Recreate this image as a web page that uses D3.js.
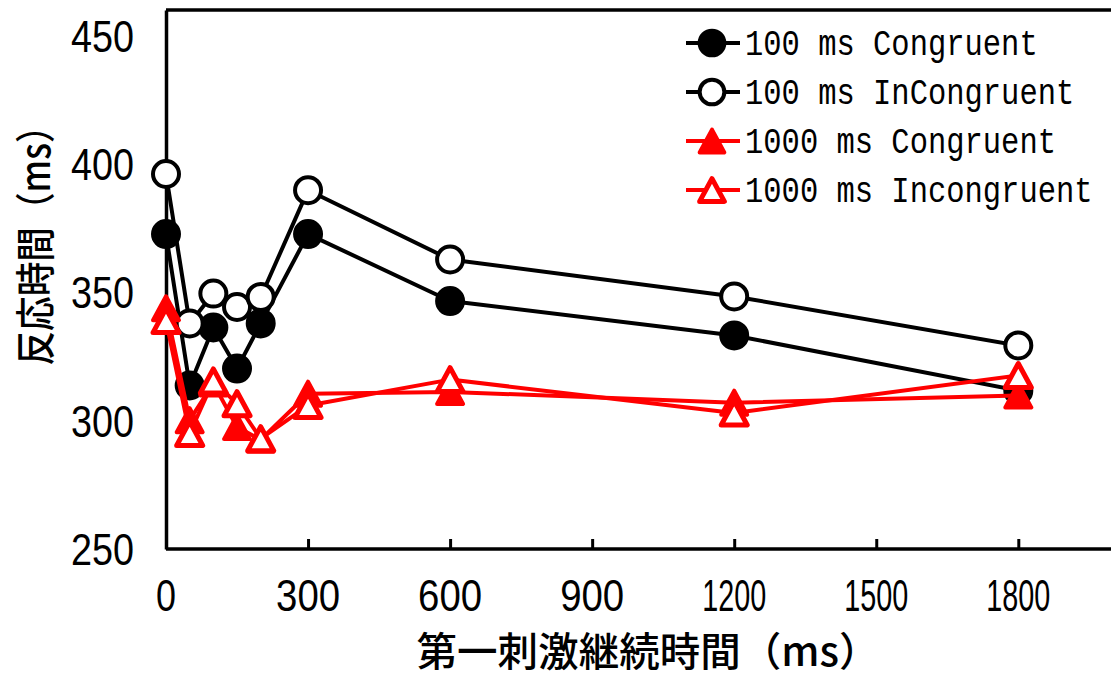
<!DOCTYPE html>
<html><head><meta charset="utf-8">
<script src="https://cdn.jsdelivr.net/npm/d3@7"></script>
<style>
html,body{margin:0;padding:0;background:#fff;}
svg{display:block;}
</style></head>
<body>
<svg id="chart" width="1111" height="678"></svg>
<script>
// ---- data ----
const xValues = [0, 50, 100, 150, 200, 300, 600, 1200, 1800];
const c100  = [372.7, 313.7, 336.3, 320.3, 337.9, 372.7, 346.6, 333.2, 311.7];
const i100  = [396.1, 337.9, 349.5, 344.3, 348.2, 389.8, 362.8, 348.4, 329.3];
const c1000 = [343.8, 300.2, 314.5, 297.5, 292.6, 310.5, 311.2, 307.0, 309.8];
const i1000 = [339.0, 295.0, 315.5, 306.6, 293.0, 305.9, 316.0, 303.0, 317.6];
const seriesNames = ["100 ms Congruent", "100 ms InCongruent", "1000 ms Congruent", "1000 ms Incongruent"];
const xTicks = [0, 300, 600, 900, 1200, 1500, 1800];
const yTicks = [250, 300, 350, 400, 450];
const xTitle = "第一刺激継続時間（ms）";
const yTitle = "反応時間（ms）";

const series = [
  {name: seriesNames[0], values: c100,  color: "#000", shape: "circle",   filled: true},
  {name: seriesNames[1], values: i100,  color: "#000", shape: "circle",   filled: false},
  {name: seriesNames[2], values: c1000, color: "#ff0000", shape: "triangle", filled: true},
  {name: seriesNames[3], values: i1000, color: "#ff0000", shape: "triangle", filled: false}
];

const svg = d3.select("#chart");
const x = d3.scaleLinear().domain([0, 2000]).range([166, 1113]);
const y = d3.scaleLinear().domain([250, 460]).range([549, 10]);

// frame (top edge)
svg.append("line").attr("x1", x(0)).attr("x2", 1120).attr("y1", y(460)).attr("y2", y(460))
  .attr("stroke", "#000").attr("stroke-width", 3.5);

// axes
const xAxis = d3.axisBottom(x).tickValues(xTicks).tickSizeInner(-10).tickSizeOuter(0).tickFormat("");
const gx = svg.append("g").attr("transform", `translate(0,${y(250)})`).call(xAxis);
gx.select(".domain").attr("stroke-width", 3.5).attr("d", `M${x(0)},0H1120`);
gx.selectAll(".tick line").attr("stroke-width", 3);

const yAxis = d3.axisLeft(y).tickValues(yTicks).tickSize(0).tickFormat("");
const gy = svg.append("g").attr("transform", `translate(${x(0)},0)`).call(yAxis);
gy.select(".domain").attr("stroke-width", 3.5);

// tick labels
svg.append("g").selectAll("text").data(xTicks).join("text")
  .attr("x", d => x(d)).attr("y", y(250) + 62)
  .attr("text-anchor", "middle")
  .attr("font-family", "Liberation Sans, Arial, sans-serif")
  .attr("font-size", 45)
  .attr("textLength", d => d === 0 ? 20 : 64)
  .attr("lengthAdjust", "spacingAndGlyphs")
  .attr("fill", "#000")
  .text(d => d);

svg.append("g").selectAll("text").data(yTicks).join("text")
  .attr("x", 134).attr("y", d => y(d) + 16)
  .attr("text-anchor", "end")
  .attr("font-family", "Liberation Sans, Arial, sans-serif")
  .attr("font-size", 45)
  .attr("textLength", 63)
  .attr("lengthAdjust", "spacingAndGlyphs")
  .attr("fill", "#000")
  .text(d => d);

// axis titles
svg.append("text")
  .attr("transform", "translate(648,666) scale(1,1.05)")
  .attr("text-anchor", "middle")
  .attr("font-family", "Noto Sans CJK JP, sans-serif")
  .attr("font-size", 38).attr("font-weight", 500)
  .attr("textLength", 463).attr("lengthAdjust", "spacingAndGlyphs")
  .text(xTitle);

svg.append("text")
  .attr("transform", "translate(50,237) rotate(-90)")
  .attr("text-anchor", "middle")
  .attr("font-family", "Noto Sans CJK JP, sans-serif")
  .attr("font-size", 40).attr("font-weight", 500)
  .attr("textLength", 257).attr("lengthAdjust", "spacingAndGlyphs")
  .text(yTitle);

// marker drawing
function triPath(s) { return `M0,${-12*s}L${13*s},${12*s}L${-13*s},${12*s}Z`; }
function drawMarker(g, ser, cx, cy, scale) {
  if (ser.shape === "circle") {
    g.append("circle").attr("cx", cx).attr("cy", cy).attr("r", 13*scale)
      .attr("fill", ser.filled ? ser.color : "#fff")
      .attr("stroke", ser.color).attr("stroke-width", 4);
  } else {
    g.append("path").attr("d", triPath(scale)).attr("transform", `translate(${cx},${cy})`)
      .attr("fill", ser.filled ? ser.color : "#fff")
      .attr("stroke", ser.color).attr("stroke-width", ser.filled ? 4 : 5)
      .attr("stroke-linejoin", "round");
  }
}

const line = d3.line().x(d => x(d[0])).y(d => y(d[1]));
series.forEach(ser => {
  const g = svg.append("g");
  const pts = xValues.map((xv, i) => [xv, ser.values[i]]);
  g.append("path").attr("d", line(pts)).attr("fill", "none")
    .attr("stroke", ser.color).attr("stroke-width", 4).attr("stroke-linejoin", "round");
  pts.forEach(p => drawMarker(g, ser, x(p[0]), y(p[1]), 1));
});

// legend
const legendRows = [43, 92, 141, 190];
const lg = svg.append("g");
series.forEach((ser, i) => {
  const cy = legendRows[i];
  lg.append("line").attr("x1", 686).attr("x2", 740).attr("y1", cy).attr("y2", cy)
    .attr("stroke", ser.color).attr("stroke-width", 4);
  drawMarker(lg, ser, 712, cy, 0.95);
  lg.append("text")
    .attr("transform", `translate(745,${cy + 12}) scale(1,1.2)`)
    .attr("font-family", "Liberation Mono, DejaVu Sans Mono, monospace")
    .attr("font-size", 30.5)
    .attr("fill", "#000")
    .text(ser.name);
});
</script>
</body></html>
